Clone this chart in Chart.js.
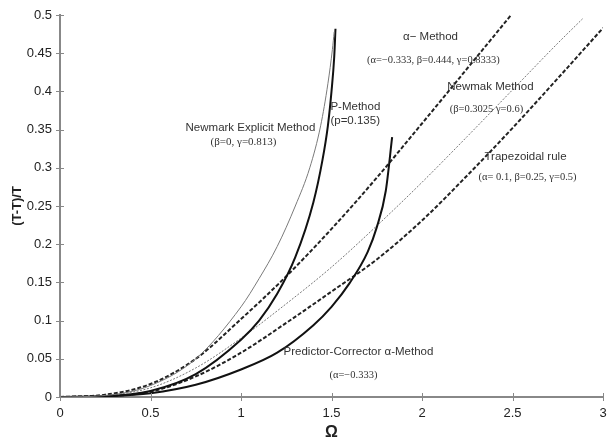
<!DOCTYPE html>
<html>
<head>
<meta charset="utf-8">
<script src="https://cdn.jsdelivr.net/npm/chart.js@4"></script>
<style>
  html, body { margin: 0; padding: 0; background: #fff; }
  #wrap { width: 608px; height: 437px; }
</style>
</head>
<body>
<div id="wrap"><canvas id="c" width="608" height="437"></canvas></div>
<script>
// values
const xTicks = [0, 0.5, 1, 1.5, 2, 2.5, 3];
const yTicks = [0, 0.05, 0.1, 0.15, 0.2, 0.25, 0.3, 0.35, 0.4, 0.45, 0.5];

const explicitX = [0, 0.25, 0.5, 0.75, 1.0, 1.1, 1.2, 1.3, 1.38, 1.44, 1.48, 1.505, 1.515];
const explicitY = [0, 0.002, 0.015, 0.05, 0.118, 0.155, 0.197, 0.25, 0.3, 0.355, 0.41, 0.455, 0.478];

const pMethodX = [0, 0.25, 0.5, 0.75, 1.0, 1.1, 1.2, 1.3, 1.4, 1.45, 1.48, 1.5, 1.515, 1.522];
const pMethodY = [0, 0.001, 0.008, 0.03, 0.075, 0.1, 0.135, 0.183, 0.255, 0.31, 0.355, 0.4, 0.445, 0.482];

const predCorrX = [0, 0.25, 0.5, 0.75, 1.0, 1.2, 1.4, 1.5, 1.6, 1.7, 1.75, 1.8, 1.835];
const predCorrY = [0, 0.001, 0.005, 0.016, 0.036, 0.058, 0.094, 0.118, 0.149, 0.19, 0.222, 0.27, 0.34];

const alphaX = [0, 0.25, 0.5, 0.75, 1.0, 1.25, 1.5, 1.75, 2.0, 2.25, 2.489];
const alphaY = [0, 0.003, 0.017, 0.05, 0.102, 0.158, 0.22, 0.287, 0.358, 0.43, 0.499];

const newmarkX = [0, 0.25, 0.5, 0.75, 1.0, 1.25, 1.5, 1.75, 2.0, 2.25, 2.5, 2.75, 2.887];
const newmarkY = [0, 0.002, 0.012, 0.038, 0.077, 0.122, 0.17, 0.224, 0.281, 0.341, 0.402, 0.463, 0.495];

const trapX = [0, 0.25, 0.5, 0.75, 1.0, 1.25, 1.5, 1.75, 2.0, 2.25, 2.5, 2.75, 3.0];
const trapY = [0, 0.001, 0.007, 0.027, 0.058, 0.097, 0.138, 0.18, 0.231, 0.29, 0.352, 0.417, 0.483];

// curve labels: [text, x, y, font, align]
const notes = [
    ['Newmark Explicit Method', 1.052, 0.352, '11.5px "Liberation Sans", Arial', 'center'],
    ['(\u03b2=0, \u03b3=0.813)', 1.014, 0.333, '11px "Liberation Serif", serif', 'center'],
    ['P-Method', 1.494, 0.380, '11.5px "Liberation Sans", Arial', 'left'],
    ['(p=0.135)', 1.494, 0.362, '11.5px "Liberation Sans", Arial', 'left'],
    ['\u03b1\u2212 Method', 2.047, 0.471, '11.5px "Liberation Sans", Arial', 'center'],
    ['(\u03b1=\u22120.333, \u03b2=0.444, \u03b3=0.8333)', 2.063, 0.441, '10.5px "Liberation Serif", serif', 'center'],
    ['Newmak Method', 2.378, 0.406, '11.5px "Liberation Sans", Arial', 'center'],
    ['(\u03b2=0.3025 \u03b3=0.6)', 2.356, 0.376, '10.5px "Liberation Serif", serif', 'center'],
    ['Trapezoidal rule', 2.572, 0.314, '11.5px "Liberation Sans", Arial', 'center'],
    ['(\u03b1= 0.1, \u03b2=0.25, \u03b3=0.5)', 2.583, 0.287, '10.5px "Liberation Serif", serif', 'center'],
    ['Predictor-Corrector \u03b1-Method', 1.649, 0.059, '11.5px "Liberation Sans", Arial', 'center'],
    ['(\u03b1=\u22120.333)', 1.621, 0.028, '10.5px "Liberation Serif", serif', 'center']
];

function pts(xs, ys) {
    return xs.map((x, i) => ({ x: x, y: ys[i] }));
}

const notePlugin = {
    id: 'notes',
    afterDraw(chart) {
        const ctx = chart.ctx;
        const sx = chart.scales.x, sy = chart.scales.y;
        ctx.save();
        // tick marks crossing the axes
        ctx.strokeStyle = '#888';
        ctx.lineWidth = 1;
        ctx.beginPath();
        yTicks.forEach(v => {
            const p = Math.round(sy.getPixelForValue(v)) + 0.5;
            ctx.moveTo(sx.left - 4, p);
            ctx.lineTo(sx.left + 4, p);
        });
        xTicks.forEach(v => {
            const p = Math.round(sx.getPixelForValue(v)) + 0.5;
            ctx.moveTo(p, sy.bottom - 4);
            ctx.lineTo(p, sy.bottom + 4);
        });
        ctx.stroke();

        ctx.fillStyle = '#333';
        ctx.textBaseline = 'middle';
        notes.forEach(n => {
            ctx.font = n[3];
            ctx.textAlign = n[4];
            ctx.fillText(n[0], sx.getPixelForValue(n[1]), sy.getPixelForValue(n[2]));
        });
        ctx.restore();
    }
};

const base = { showLine: true, pointRadius: 0, fill: false, cubicInterpolationMode: 'monotone' };

new Chart(document.getElementById('c'), {
    type: 'scatter',
    data: {
        datasets: [
            Object.assign({ label: 'Newmark Explicit', data: pts(explicitX, explicitY), borderColor: '#7a7a7a', borderWidth: 1 }, base),
            Object.assign({ label: 'P-Method', data: pts(pMethodX, pMethodY), borderColor: '#111', borderWidth: 2 }, base),
            Object.assign({ label: 'Predictor-Corrector', data: pts(predCorrX, predCorrY), borderColor: '#111', borderWidth: 2 }, base),
            Object.assign({ label: 'alpha-Method', data: pts(alphaX, alphaY), borderColor: '#222', borderWidth: 2, borderDash: [4, 2] }, base),
            Object.assign({ label: 'Newmark', data: pts(newmarkX, newmarkY), borderColor: '#777', borderWidth: 1, borderDash: [2, 1.5] }, base),
            Object.assign({ label: 'Trapezoidal', data: pts(trapX, trapY), borderColor: '#222', borderWidth: 2, borderDash: [4, 2] }, base)
        ]
    },
    options: {
        responsive: false,
        animation: false,
        layout: { padding: { top: 15, right: 5, left: 0, bottom: 0 } },
        plugins: {
            legend: { display: false },
            tooltip: { enabled: false }
        },
        scales: {
            x: {
                type: 'linear',
                min: 0, max: 3,
                afterBuildTicks: s => { s.ticks = xTicks.map(v => ({ value: v })); },
                afterFit: s => { s.height = 40; s.paddingLeft = 0; s.paddingRight = 0; },
                grid: { display: false, drawTicks: false },
                border: { color: '#888', width: 2 },
                ticks: {
                    padding: 9,
                    color: '#222',
                    font: { family: '"Liberation Sans", Arial', size: 13 },
                    callback: v => String(v)
                },
                title: {
                    display: true, text: '\u03a9', color: '#222', padding: { top: 0, bottom: -5 },
                    font: { family: '"Liberation Sans", Arial', size: 16, weight: 'bold' }
                }
            },
            y: {
                type: 'linear',
                min: 0, max: 0.5,
                afterBuildTicks: s => { s.ticks = yTicks.map(v => ({ value: v })); },
                afterFit: s => { s.width = 60; s.paddingTop = 0; s.paddingBottom = 0; },
                grid: { display: false, drawTicks: false },
                border: { color: '#888', width: 2 },
                ticks: {
                    padding: 8,
                    color: '#222',
                    font: { family: '"Liberation Sans", Arial', size: 13 },
                    callback: v => String(v)
                },
                title: {
                    display: true, text: '(T-T)/T', color: '#222', padding: { top: 10, bottom: 0 },
                    font: { family: '"Liberation Sans", Arial', size: 13, weight: 'bold' }
                }
            }
        }
    },
    plugins: [notePlugin]
});
</script>
</body>
</html>
